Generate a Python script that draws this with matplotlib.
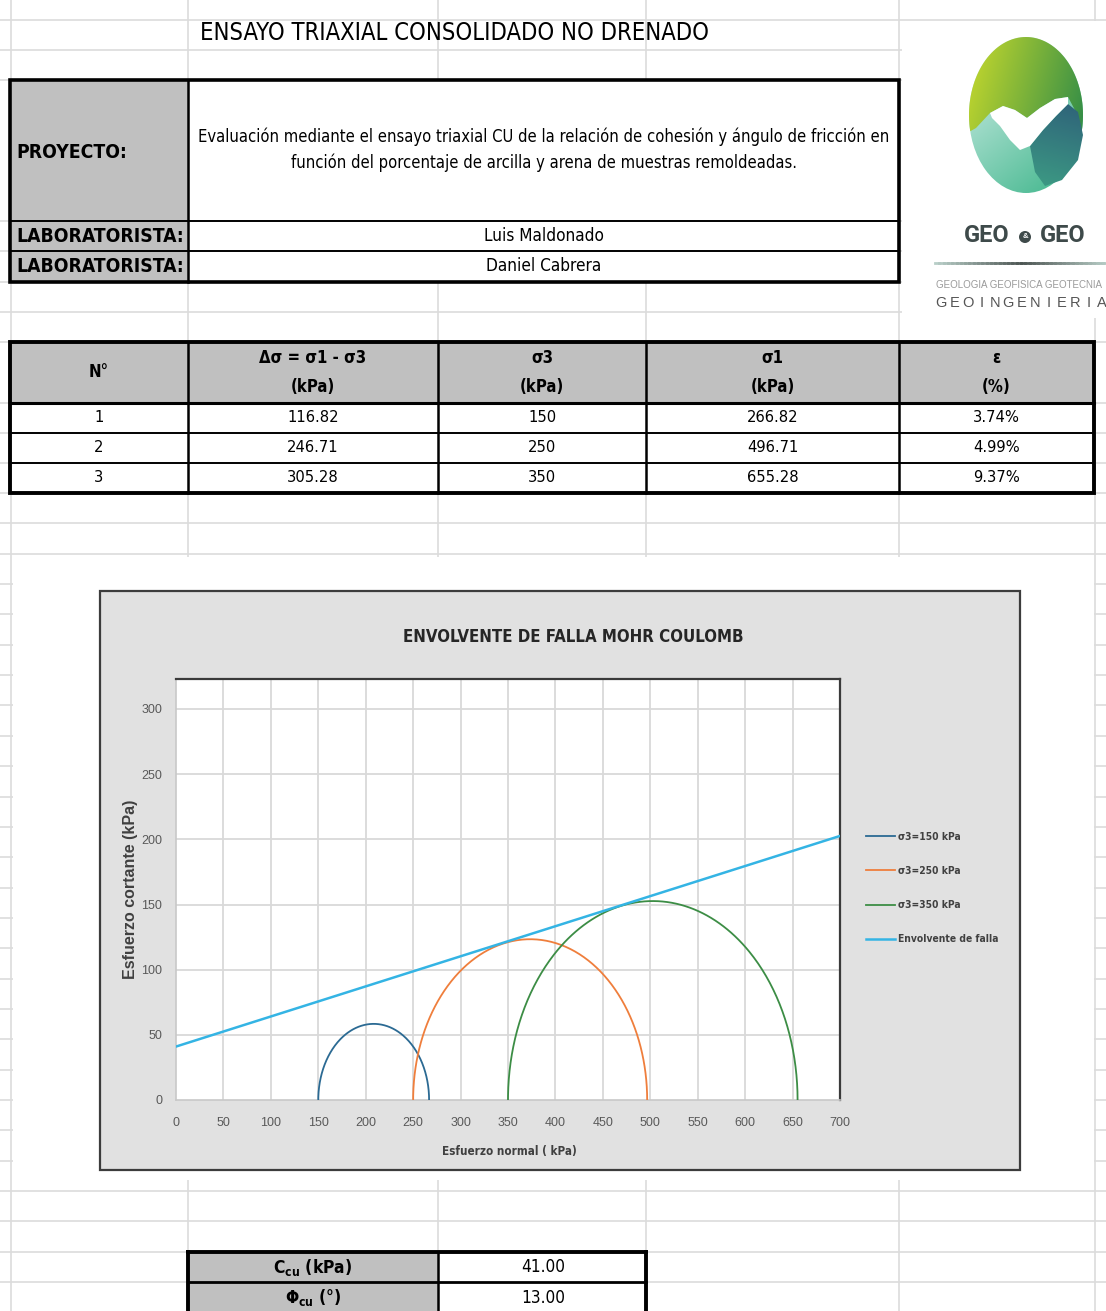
import numpy as np
import matplotlib
matplotlib.use("Agg")
import matplotlib.pyplot as plt
from matplotlib.patches import Rectangle, Ellipse, Polygon, Circle
from matplotlib.lines import Line2D
from matplotlib.colors import to_rgb

# ---------------- test results ----------------
test_no = [1, 2, 3]
delta_sigma = [116.82, 246.71, 305.28]   # kPa
sigma3 = [150, 250, 350]                 # kPa
sigma1 = [266.82, 496.71, 655.28]        # kPa
strain_pct = [3.74, 4.99, 9.37]          # %
cohesion_cu = 41.00                      # kPa
phi_cu = 13.00                           # degrees

project_lines = [
    "Evaluación mediante el ensayo triaxial CU de la relación de cohesión y ángulo de fricción en",
    "función del porcentaje de arcilla y arena de muestras remoldeadas.",
]
technicians = ["Luis Maldonado", "Daniel Cabrera"]

circle_labels = ["σ3=150 kPa", "σ3=250 kPa", "σ3=350 kPa"]
envelope_label = "Envolvente de falla"
x_ticks = list(range(0, 701, 50))
y_ticks = list(range(0, 301, 50))

# ---------------- styling ----------------
circle_colors = ["#2B6A93", "#EF7E3C", "#3C8D45"]
envelope_color = "#34B4E4"
W, H = 1106, 1311
COND = ["DejaVu Sans"]
SANS = ["Liberation Sans", "DejaVu Sans"]
GRID = "#dcdcdc"
HEAD = "#c0c0c0"

fig = plt.figure(figsize=(W / 100, H / 100), dpi=100)
bg = fig.add_axes([0, 0, 1, 1])
bg.set_xlim(0, W)
bg.set_ylim(H, 0)
bg.axis("off")


def rect(x0, y0, x1, y1, fc="none", ec="none", lw=0, z=2):
    bg.add_patch(Rectangle((x0, y0), x1 - x0, y1 - y0, facecolor=fc,
                           edgecolor=ec, linewidth=lw, zorder=z))


def seg(x0, y0, x1, y1, color="black", lw=1.0, z=4):
    bg.add_line(Line2D([x0, x1], [y0, y1], color=color, linewidth=lw,
                       zorder=z, solid_capstyle="projecting"))


def txt(x, y, s, size, family=None, weight="normal", ha="center",
        color="black", z=6, stretch="condensed", **kw):
    bg.text(x, y, s, fontsize=size, family=family or COND,
            fontweight=weight, fontstretch=stretch, ha=ha, va="center",
            color=color, zorder=z, **kw)


# ---------------- worksheet gridlines ----------------
col_x = [11, 188, 438, 646, 899, 1095]
row_y = [20, 50, 80, 221, 251, 282, 312, 342, 403, 433, 463] + \
        [493 + 30.35 * k for k in range(28)]
for x in col_x:
    seg(x, 0, x, H, color=GRID, lw=1.2, z=0)
for y in row_y:
    seg(0, y, W, y, color=GRID, lw=1.2, z=0)
# areas covered by the logo and the chart object
rect(902, 21, W, 318, fc="white", z=1)
rect(12.5, 557, 1094, 1180, fc="white", z=1)

# ---------------- title ----------------
txt(455, 33, "ENSAYO TRIAXIAL CONSOLIDADO NO DRENADO", 17)

# ---------------- project box ----------------
rect(10, 80, 188, 282, fc=HEAD, z=2)
rect(188, 80, 899, 282, fc="white", z=2)
seg(188, 80, 188, 282, lw=1.8)
seg(10, 221, 899, 221, lw=1.4)
seg(10, 251, 899, 251, lw=1.4)
rect(10, 80, 899, 282, ec="black", lw=2.6, z=5)
txt(16, 152, "PROYECTO:", 13.9, weight="bold", ha="left")
txt(16, 236, "LABORATORISTA:", 13.9, weight="bold", ha="left")
txt(16, 266, "LABORATORISTA:", 13.9, weight="bold", ha="left")
txt(544, 137, project_lines[0], 11.9)
txt(544, 163, project_lines[1], 11.9)
txt(544, 236, technicians[0], 12.3)
txt(544, 266, technicians[1], 12.3)

# ---------------- results table ----------------
tcols = [10, 188, 438, 646, 899, 1094]
trows = [342, 403, 433, 463, 493]
rect(10, 342, 1094, 403, fc=HEAD, z=2)
rect(10, 403, 1094, 493, fc="white", z=2)
for x in tcols[1:-1]:
    seg(x, 342, x, 493, lw=1.8)
seg(10, 403, 1094, 403, lw=2.2)
seg(10, 433, 1094, 433, lw=1.4)
seg(10, 463, 1094, 463, lw=1.4)
rect(10, 342, 1094, 493, ec="black", lw=2.8, z=5)

centers = [(tcols[i] + tcols[i + 1]) / 2 for i in range(5)]
headers = [("N°", ""), ("Δσ = σ1 - σ3", "(kPa)"), ("σ3", "(kPa)"),
           ("σ1", "(kPa)"), ("ε", "(%)")]
for cx, (h1, h2) in zip(centers, headers):
    if h2:
        txt(cx, 358, h1, 12, weight="bold")
        txt(cx, 387, h2, 12, weight="bold")
    else:
        txt(cx, 372, h1, 12, weight="bold")
for i in range(3):
    yy = (trows[i + 1] + trows[i + 2]) / 2
    row = [f"{test_no[i]}", f"{delta_sigma[i]:.2f}", f"{sigma3[i]}",
           f"{sigma1[i]:.2f}", f"{strain_pct[i]:.2f}%"]
    for cx, s in zip(centers, row):
        txt(cx, yy, s, 11.8)

# ---------------- logo ----------------
def gradient(x0, y0, x1, y1, c_start, c_end, angle_deg, clip):
    n = 120
    gx, gy = np.meshgrid(np.linspace(0, 1, n), np.linspace(0, 1, n))
    a = np.deg2rad(angle_deg)
    t = gx * np.cos(a) + gy * np.sin(a)
    t = (t - t.min()) / (t.max() - t.min())
    c0, c1 = np.array(to_rgb(c_start)), np.array(to_rgb(c_end))
    img = c0[None, None, :] * (1 - t[..., None]) + c1[None, None, :] * t[..., None]
    im = bg.imshow(img, extent=(x0, x1, y1, y0), origin="upper",
                   aspect="auto", interpolation="bilinear", zorder=3)
    clip.set_transform(bg.transData)
    im.set_clip_path(clip)


LCX, LCY, LW, LH = 1026, 115, 114, 156
gradient(969, 37, 1083, 193, "#dcf3ef", "#3cb489", 60,
         Ellipse((LCX, LCY), LW, LH))

swoosh_top = [(1068, 97), (1055, 99), (1040, 108), (1027, 118),
              (1015, 110), (1003, 106), (990, 113)]
swoosh_bottom = [(992, 118), (1000, 126), (1010, 140), (1020, 150),
                 (1030, 146), (1043, 130), (1056, 116), (1068, 104)]

t = np.deg2rad(np.linspace(192, -20, 80))
outer = np.column_stack([LCX + LW / 2 * np.cos(t), LCY - LH / 2 * np.sin(t)])
green_poly = np.vstack([outer, [(1076, 112)], swoosh_top, [(976, 128)]])
gradient(969, 37, 1083, 150, "#c9da2c", "#2d8a48", 15, Polygon(green_poly))

blob = [(1030, 146), (1043, 130), (1056, 116), (1068, 104), (1078, 112),
        (1083, 135), (1078, 160), (1062, 180), (1045, 186), (1035, 172)]
gradient(1028, 100, 1084, 188, "#2e6079", "#3d9c84", 100, Polygon(blob))
bg.add_patch(Polygon(swoosh_top + swoosh_bottom, facecolor="white",
                     edgecolor="none", zorder=4))

txt(987, 236, "GEO", 17, family=["Roboto", "DejaVu Sans"], weight="bold",
    color="#3e4a4a", stretch="normal")
txt(1063, 236, "GEO", 17, family=["Roboto", "DejaVu Sans"], weight="bold",
    color="#3e4a4a", stretch="normal")
bg.add_patch(Circle((1025, 237), 6, facecolor="#3e4a4a", edgecolor="none",
                    zorder=6))
txt(1025, 237, "&", 5.5, family=SANS, weight="bold", color="white", z=7,
    stretch="normal")
for k in range(40):
    c = 0.35 + 0.5 * abs(k - 20) / 20
    seg(935 + k * 4.3, 263, 935 + (k + 1) * 4.3, 263,
        color=(c * 0.85, c * 0.95, c * 0.92), lw=2, z=5)
txt(936, 285, "GEOLOGIA GEOFISICA GEOTECNIA", 7.0, family=SANS, ha="left",
    color="#9a9a9a", stretch="normal")
for i, ch in enumerate("GEOINGENIERIA"):
    txt(941 + 13.4 * i, 303, ch, 10.5, family=SANS, color="#555555",
        stretch="normal")

# ---------------- chart object ----------------
rect(100, 591, 1020, 1170, fc="#e1e1e1", ec="#3c3c3c", lw=1.6, z=2)
PX0, PX1, PY0, PY1 = 176, 840, 679, 1100
ax = fig.add_axes([PX0 / W, 1 - PY1 / H, (PX1 - PX0) / W, (PY1 - PY0) / H])
ax.set_facecolor("white")
ax.set_xlim(0, 700)
ax.set_ylim(0, (PY1 - PY0) / ((1100 - 709) / 300))

for xv in x_ticks[1:]:
    ax.axvline(xv, color="#d9d9d9", lw=1.3, zorder=0)
for yv in y_ticks[1:]:
    ax.axhline(yv, color="#d9d9d9", lw=1.3, zorder=0)

theta = np.linspace(0, np.pi, 300)
handles = []
for s1, s3, col, lab in zip(sigma1, sigma3, circle_colors, circle_labels):
    c = (s1 + s3) / 2
    r = (s1 - s3) / 2
    h, = ax.plot(c + r * np.cos(theta), r * np.sin(theta), color=col,
                 lw=1.3, label=lab, zorder=3)
    handles.append(h)
xe = np.array([0, 700])
he, = ax.plot(xe, cohesion_cu + xe * np.tan(np.deg2rad(phi_cu)),
              color=envelope_color, lw=1.8, label=envelope_label, zorder=4)
handles.append(he)

ax.set_xticks(x_ticks)
ax.set_yticks(y_ticks)
ax.tick_params(length=0, labelsize=9, labelcolor="#595959")
ax.tick_params(axis="x", pad=12)
ax.tick_params(axis="y", pad=10)
for lab in ax.get_xticklabels() + ax.get_yticklabels():
    lab.set_family(SANS)
for side in ("top", "right"):
    ax.spines[side].set_color("#3a3a3a")
    ax.spines[side].set_linewidth(1.6)
for side in ("left", "bottom"):
    ax.spines[side].set_color("#c8c8c8")
    ax.spines[side].set_linewidth(1.2)

txt(573, 637, "ENVOLVENTE DE FALLA MOHR COULOMB", 12.1, weight="bold",
    color="#262626")
txt(509, 1151, "Esfuerzo normal ( kPa)", 8.4, weight="bold", color="#404040")
txt(131, 889, "Esfuerzo cortante (kPa)", 11.5, family=SANS, weight="bold",
    color="#404040", rotation=90, stretch="normal")

fig.legend(handles=handles, loc="upper left",
           bbox_to_anchor=(866 / W, 1 - 832 / H), frameon=False,
           borderpad=0, borderaxespad=0, handlelength=2.8,
           handletextpad=0.3, labelspacing=2.34,
           prop={"family": COND, "weight": "bold", "size": 7.4,
                 "stretch": "condensed"},
           labelcolor="#404040")

# ---------------- strength parameters ----------------
rect(188, 1252, 438, 1311, fc=HEAD, z=2)
rect(438, 1252, 646, 1311, fc="white", z=2)
seg(438, 1252, 438, 1311, lw=1.8)
seg(188, 1282, 646, 1282, lw=2.0)
seg(188, 1252, 646, 1252, lw=2.8, z=5)
seg(188, 1252, 188, 1311, lw=2.8, z=5)
seg(646, 1252, 646, 1311, lw=2.8, z=5)
txt(313, 1267, "C$_{\\mathregular{cu}}$ (kPa)", 12.5, weight="bold")
txt(313, 1298, "Φ$_{\\mathregular{cu}}$ (°)", 12.5, weight="bold")
txt(543, 1267, f"{cohesion_cu:.2f}", 12.3)
txt(543, 1298, f"{phi_cu:.2f}", 12.3)

fig.savefig("out.png", dpi=100)
